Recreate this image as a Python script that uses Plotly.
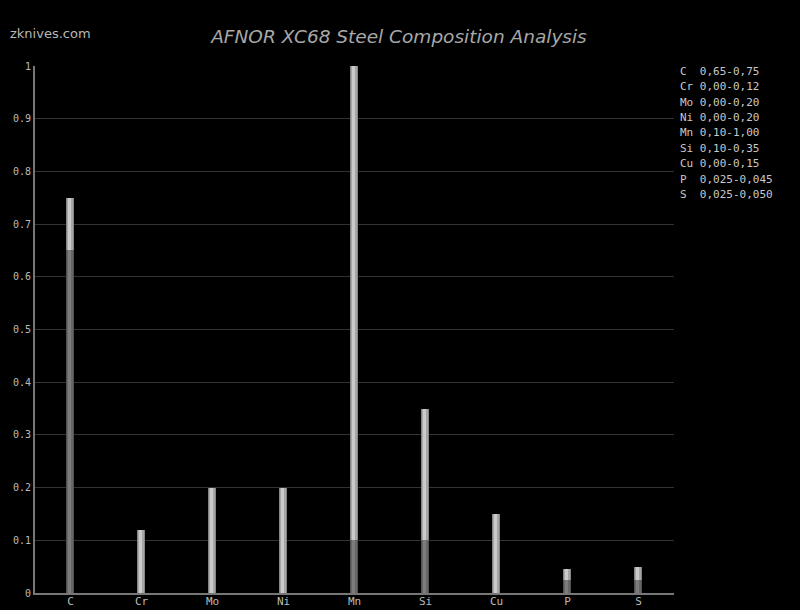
import plotly.graph_objects as go

elements = ["C", "Cr", "Mo", "Ni", "Mn", "Si", "Cu", "P", "S"]
min_vals = [0.65, 0.0, 0.0, 0.0, 0.10, 0.10, 0.0, 0.025, 0.025]
max_vals = [0.75, 0.12, 0.20, 0.20, 1.00, 0.35, 0.15, 0.045, 0.050]
range_labels = ["0,65-0,75", "0,00-0,12", "0,00-0,20", "0,00-0,20", "0,10-1,00",
                "0,10-0,35", "0,00-0,15", "0,025-0,045", "0,025-0,050"]
y_ticks = [0, 0.1, 0.2, 0.3, 0.4, 0.5, 0.6, 0.7, 0.8, 0.9, 1]

W, H = 800, 610
ml, mr, mt, mb = 35, 126, 66, 17
px_per_cat = (W - ml - mr) / len(elements)

fig = go.Figure()

# layers to simulate horizontal gradient: (width px, offset px from centre, colour low, colour high)
layers = [
    (8, -4.5, "#525252", "#858585"),
    (6, -3.5, "#666666", "#a6a6a6"),
    (3, -2.5, "#7c7c7c", "#cacaca"),
]
for wpx, opx, c_low, c_high in layers:
    w = wpx / px_per_cat
    o = opx / px_per_cat
    fig.add_trace(go.Bar(x=elements, y=min_vals, base=[0] * len(elements),
                         width=w, offset=o, marker=dict(color=c_low, line=dict(width=0)),
                         hoverinfo="skip", showlegend=False))
    fig.add_trace(go.Bar(x=elements, y=[mx - mn for mn, mx in zip(min_vals, max_vals)],
                         base=min_vals, width=w, offset=o,
                         marker=dict(color=c_high, line=dict(width=0)),
                         hoverinfo="skip", showlegend=False))

mono = "DejaVu Sans Mono"
plot_h = H - mt - mb
plot_w = W - ml - mr
ann = []
ann.append(dict(text="zknives.com", xref="paper", yref="paper",
                x=-27 / plot_w, y=(H - mb - 34) / plot_h,
                xanchor="left", yanchor="middle", showarrow=False,
                font=dict(family="DejaVu Sans", size=13, color="#b8b8b8")))
for i, (el, lab) in enumerate(zip(elements, range_labels)):
    py = 71 + 15.5 * i
    ann.append(dict(text=f"{el:<3}{lab}", xref="paper", yref="paper",
                    x=(678 - ml) / plot_w, y=(H - mb - py) / plot_h,
                    xanchor="left", yanchor="middle", showarrow=False,
                    font=dict(family=mono, size=11, color="#c8c8c8")))

fig.update_layout(
    width=W, height=H,
    paper_bgcolor="black", plot_bgcolor="black",
    barmode="overlay",
    margin=dict(l=ml, r=mr, t=mt, b=mb),
    title=dict(text="AFNOR XC68 Steel Composition Analysis", x=399 / W, xanchor="center",
               y=1 - 37 / H, yanchor="middle",
               font=dict(family="DejaVu Sans", size=18.5, color="#a8a8a8", style="italic")),
    xaxis=dict(range=[-0.5, len(elements) - 0.5], showgrid=False, showline=True,
               linecolor="#777777", linewidth=2, ticks="", zeroline=False, automargin=False,
               tickfont=dict(family=mono, size=11, color="#bbbbbb"), ticklabelstandoff=-3),
    yaxis=dict(range=[0, 1], tickvals=y_ticks, ticktext=[f"{v:g}" for v in y_ticks],
               showgrid=True, gridcolor="#333333", gridwidth=1, showline=True, automargin=False,
               linecolor="#777777", linewidth=2, zeroline=False, ticks="",
               tickfont=dict(family=mono, size=10, color="#bbbbbb")),
    annotations=ann,
    bargap=0,
)

fig.write_html("out.html", config={"displayModeBar": False},
               post_script="document.body.style.margin='0';document.body.style.background='black';")
